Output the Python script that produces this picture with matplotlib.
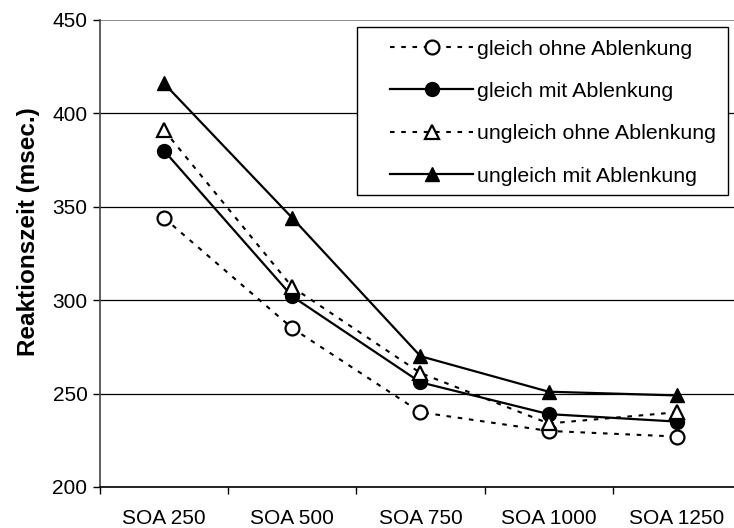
import matplotlib
matplotlib.use("Agg")
import matplotlib.pyplot as plt
from matplotlib.patches import Rectangle
import numpy as np

plt.rcParams['font.family'] = ['Liberation Sans', 'DejaVu Sans']

categories = ["SOA 250", "SOA 500", "SOA 750", "SOA 1000", "SOA 1250"]

gleich_ohne = [344, 285, 240, 230, 227]
gleich_mit = [380, 302, 256, 239, 235]
ungleich_ohne = [391, 307, 261, 234, 240]
ungleich_mit = [416, 344, 270, 251, 249]

x = np.arange(len(categories))
dash = (0, (2.2, 3.2))

fig = plt.figure(figsize=(7.34, 5.28), dpi=100)
ax = fig.add_axes([0.1362, 0.0777, 0.8733, 0.8845])

ax.plot(x, gleich_ohne, color="black", lw=1.5, linestyle=dash, marker="o",
        ms=10, mfc="white", mec="black", mew=1.6, label="gleich ohne Ablenkung")
ax.plot(x, gleich_mit, color="black", lw=1.6, linestyle="-", marker="o",
        ms=10, mfc="black", mec="black", label="gleich mit Ablenkung")
ax.plot(x, ungleich_ohne, color="black", lw=1.5, linestyle=dash, marker="^",
        ms=10, mfc="white", mec="black", mew=1.6, label="ungleich ohne Ablenkung")
ax.plot(x, ungleich_mit, color="black", lw=1.6, linestyle="-", marker="^",
        ms=10, mfc="black", mec="black", label="ungleich mit Ablenkung")

ax.set_xlim(-0.5, len(categories) - 0.5)
ax.set_ylim(200, 450)
ax.set_yticks(np.arange(200, 451, 50))
ax.set_xticks(x)
ax.set_xticklabels(categories)
ax.set_xticks(np.arange(-0.5, len(categories), 1), minor=True)
ax.tick_params(axis="x", which="major", length=0, pad=16, labelsize=15)
ax.tick_params(axis="x", which="minor", length=5, width=1, direction="out")
ax.tick_params(axis="y", length=5, width=1, direction="out", labelsize=15, pad=4)

ax.yaxis.grid(True, color="black", lw=0.9)
ax.set_axisbelow(True)
for side in ("top", "right"):
    ax.spines[side].set_visible(False)
ax.spines["left"].set_color("#444444")
ax.spines["left"].set_linewidth(1.2)
ax.spines["bottom"].set_linewidth(1.2)
# top gridline a bit lighter and heavier
ax.get_ygridlines()[-1].set_color("#888888")
ax.get_ygridlines()[-1].set_linewidth(1.4)

ax.set_ylabel("Reaktionszeit (msec.)", fontsize=17.5, fontweight="bold")
ax.yaxis.set_label_coords(-0.093, 0.546)

# legend box drawn separately so the entries can sit inset from its left edge
box = Rectangle((0.401, 0.625), 0.579, 0.36, transform=ax.transAxes,
                facecolor="white", edgecolor="black", lw=1.0, zorder=2.5)
ax.add_patch(box)

leg = ax.legend(loc="upper left", bbox_to_anchor=(0.4524, 0.958), fontsize=15.4,
                frameon=False, handlelength=3.9, handletextpad=0.15,
                labelspacing=1.09, borderpad=0, borderaxespad=0)
leg.set_zorder(3)

fig.savefig("out.png", dpi=100)
